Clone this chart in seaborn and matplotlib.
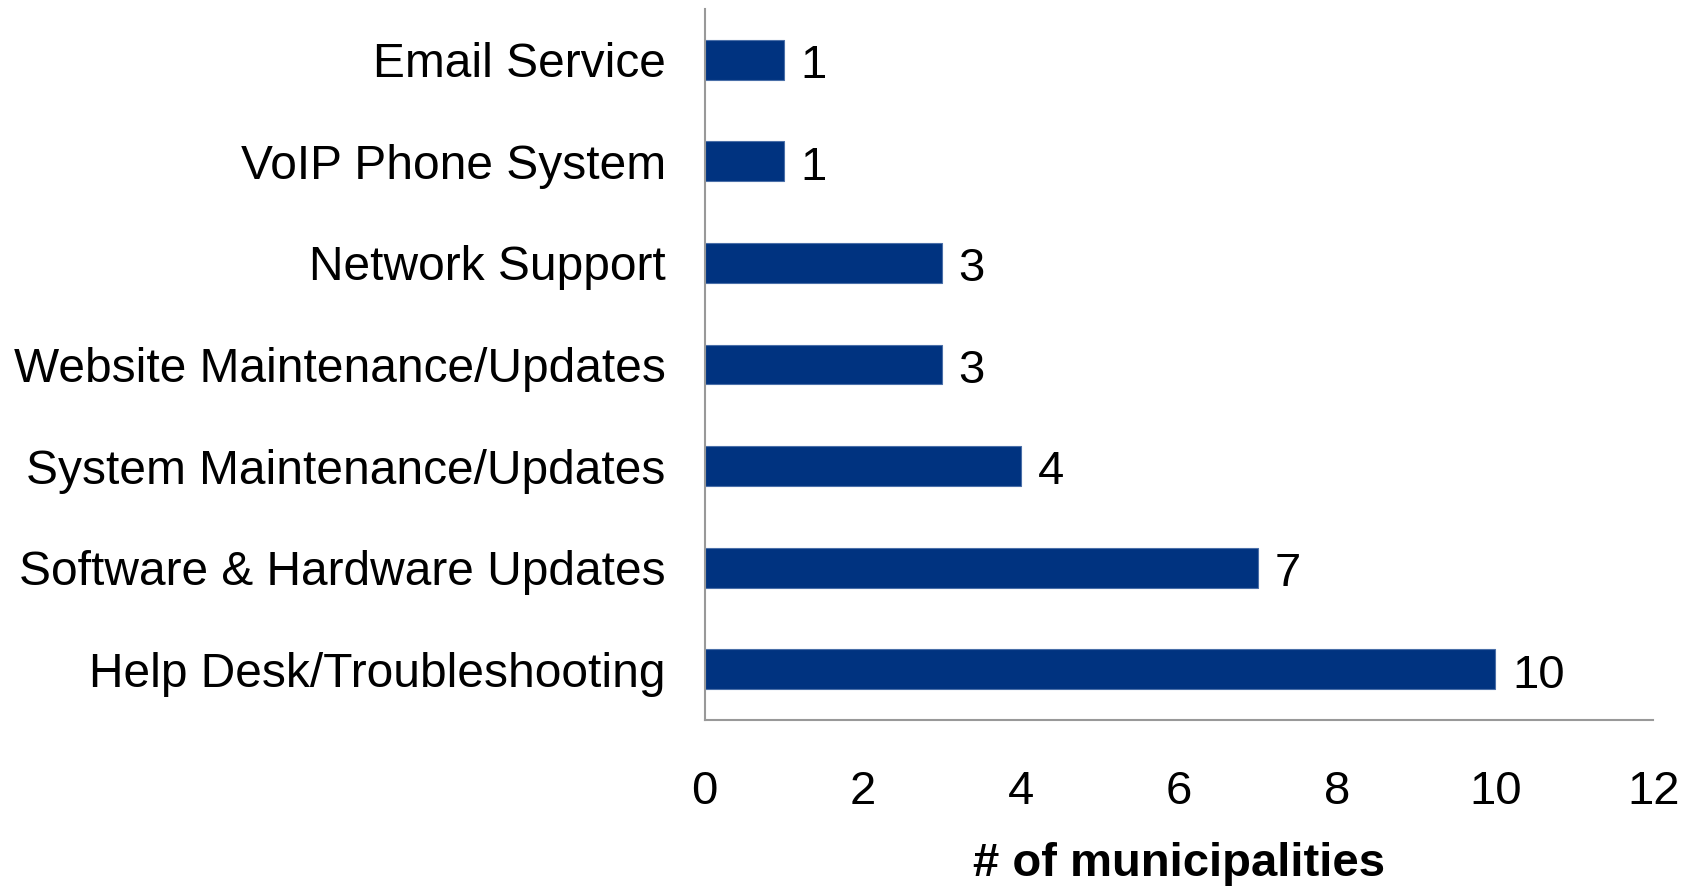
import seaborn as sns
import pandas as pd
import matplotlib.pyplot as plt

# data
services = ['Email Service', 'VoIP Phone System', 'Network Support',
            'Website Maintenance/Updates', 'System Maintenance/Updates',
            'Software & Hardware Updates', 'Help Desk/Troubleshooting']
counts = [1, 1, 3, 3, 4, 7, 10]
x_ticks = [0, 2, 4, 6, 8, 10, 12]

df = pd.DataFrame({'service': services, 'count': counts})

sns.set_style('white')
plt.rcParams['font.family'] = ['Liberation Sans', 'DejaVu Sans']
plt.rcParams['text.color'] = 'black'
plt.rcParams['axes.labelcolor'] = 'black'
plt.rcParams['xtick.color'] = 'black'
plt.rcParams['ytick.color'] = 'black'

fig = plt.figure(figsize=(16.94, 8.89), dpi=100)
ax = fig.add_axes([0.416, 0.19, 0.56, 0.80])

sns.barplot(data=df, x='count', y='service', orient='h', color='#003380',
            width=0.39, edgecolor='#4a6fa8', linewidth=0.8, saturation=1, ax=ax)

# value labels to the right of each bar
for i, c in enumerate(counts):
    ax.annotate(str(c), (c, i), xytext=(12, -1), textcoords='offset points',
                ha='left', va='center_baseline', fontsize=34, color='black')

ax.set_xlim(0, 12)
ax.set_ylim(6.5, -0.5)
ax.set_xticks(x_ticks)
ax.set_xticklabels([str(t) for t in x_ticks])
ax.tick_params(axis='x', length=0, pad=36, labelsize=34)
ax.tick_params(axis='y', length=0, pad=28, labelsize=34.5)
ax.set_ylabel('')
ax.set_xlabel('# of municipalities', fontsize=34, fontweight='bold', labelpad=20)

for side in ['top', 'right']:
    ax.spines[side].set_visible(False)
for side in ['left', 'bottom']:
    ax.spines[side].set_color('#999999')
    ax.spines[side].set_linewidth(1.5)

fig.savefig('out.png', dpi=100)
